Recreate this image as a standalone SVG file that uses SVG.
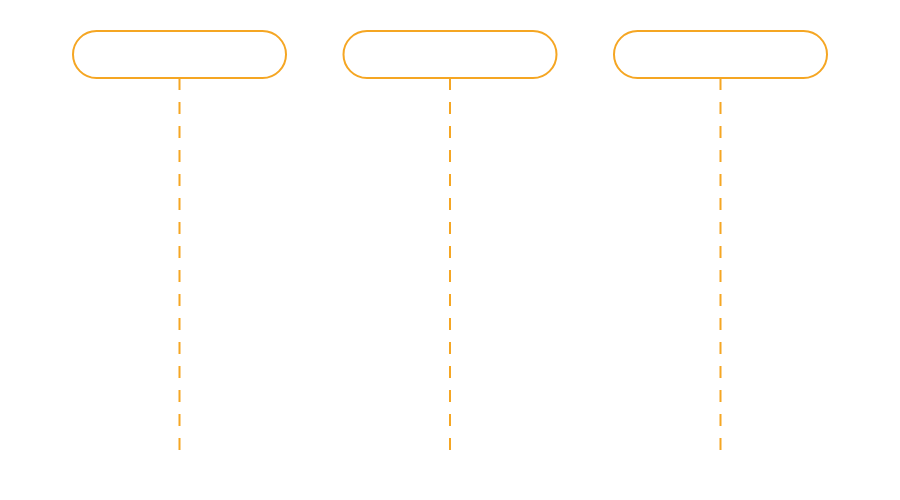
<svg xmlns="http://www.w3.org/2000/svg" width="900" height="500" viewBox="0 0 900 500">
<style>
.actor{fill:#ffffff;stroke:#f5a623;stroke-width:2}
.life{stroke:#f5a623;stroke-width:2;stroke-dasharray:12 12;fill:none}
</style>
<rect width="900" height="500" fill="#ffffff"/>
<g id="connectors">
<line class="life" x1="179.5" y1="78" x2="179.5" y2="450"/>
<line class="life" x1="450" y1="78" x2="450" y2="450"/>
<line class="life" x1="720.5" y1="78" x2="720.5" y2="450"/>
</g>
<g id="actor1"><rect class="actor" x="73" y="31" width="213" height="47" rx="23.5"/></g>
<g id="actor2"><rect class="actor" x="343.5" y="31" width="213" height="47" rx="23.5"/></g>
<g id="actor3"><rect class="actor" x="614" y="31" width="213" height="47" rx="23.5"/></g>
</svg>
